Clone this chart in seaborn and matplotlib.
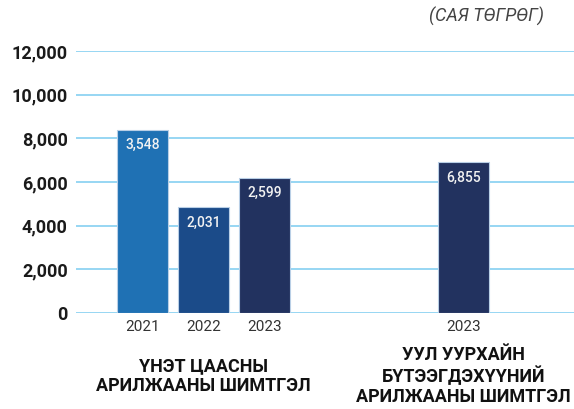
import pandas as pd
import matplotlib.pyplot as plt
import matplotlib.transforms as mtransforms
import seaborn as sns

# bar data
positions = [0, 1, 2, 5.26]
heights = [8400, 4840, 6190, 6900]
value_labels = ["3,548", "2,031", "2,599", "6,855"]
year_labels = ["2021", "2022", "2023", "2023"]
bar_keys = ["a", "b", "c", "d"]
bar_colors = ["#1f71b4", "#1b4b89", "#22325f", "#22325f"]
group_labels = ["ҮНЭТ ЦААСНЫ\nАРИЛЖААНЫ ШИМТГЭЛ",
                "УУЛ УУРХАЙН\nБҮТЭЭГДЭХҮҮНИЙ\nАРИЛЖААНЫ ШИМТГЭЛ"]
group_centers = [1, 5.26]
y_ticks = [0, 2000, 4000, 6000, 8000, 10000, 12000]

df = pd.DataFrame({"pos": positions, "height": heights, "key": bar_keys})

sns.set_style("white")
plt.rcParams["font.family"] = ["Roboto", "DejaVu Sans"]

fig = plt.figure(figsize=(5.74, 4.09), dpi=100)
ax = fig.add_axes([76 / 574, 1 - 313 / 409, 1 - 76 / 574, 262 / 409])

sns.barplot(data=df, x="pos", y="height", hue="key", palette=bar_colors,
            native_scale=True, width=0.84, dodge=False, legend=False,
            saturation=1, edgecolor="#b9cfe6", linewidth=0.8, ax=ax)

ax.set_ylim(0, 12000)
ax.set_xlim(-1.09, 7.07)
ax.set_yticks(y_ticks)
ax.set_yticklabels([f"{v:,}" for v in y_ticks], fontsize=13, fontweight="bold",
                   color="#1a1a1a")
ax.set_xticks(positions)
ax.set_xticklabels(year_labels, fontsize=11, color="#333333")
ax.tick_params(axis="both", length=0)
ax.tick_params(axis="y", pad=6)
ax.tick_params(axis="x", pad=5)
ax.set_xlabel("")
ax.set_ylabel("")
ax.grid(axis="y", color="#8fd3f2", linewidth=1.3)
ax.set_axisbelow(True)
sns.despine(ax=ax, left=True, bottom=True)

for x, h, lab in zip(positions, heights, value_labels):
    ax.annotate(lab, (x, h), xytext=(0, -11), textcoords="offset points",
                ha="center", va="center", fontsize=10, color="#f2f2f2",
                fontweight="medium")

trans = mtransforms.blended_transform_factory(ax.transData, ax.transAxes)
for x, lab in zip(group_centers, group_labels):
    ax.text(x, -0.24, lab, transform=trans, ha="center", va="center",
            fontsize=13, fontweight="bold", color="#111111", linespacing=1.15)

fig.text(0.847, 0.96, "(САЯ ТӨГРӨГ)", ha="center", va="center",
         fontsize=13, style="italic", color="#444444")

fig.savefig("out.png", dpi=100)
